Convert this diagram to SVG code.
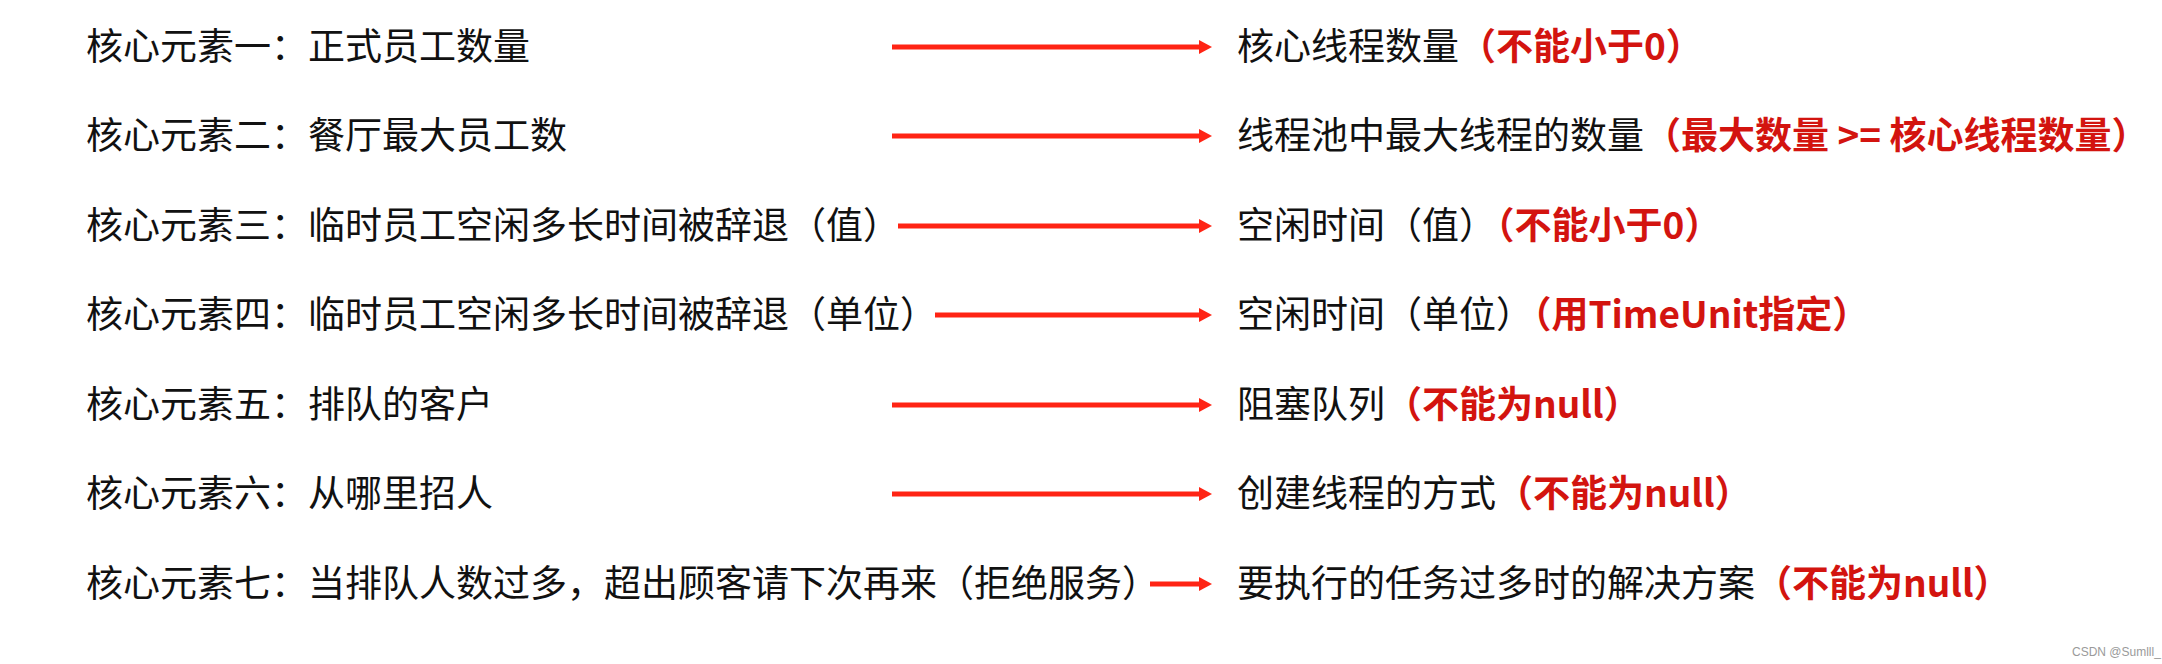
<svg xmlns="http://www.w3.org/2000/svg" width="2162" height="664" viewBox="0 0 2162 664">
<style>
.t{font-family:"Noto Sans CJK SC","Noto Sans",sans-serif;font-size:37px;fill:#111;}
.r{font-weight:bold;fill:#d3140f;}
.arr{stroke:#ff2414;stroke-width:5;fill:none;}
.wm{font-family:"Liberation Sans",Arial,sans-serif;font-size:12px;fill:#9a9a9a;}
</style>
<defs>
<marker id="ah" markerUnits="userSpaceOnUse" markerWidth="14" markerHeight="16" refX="0" refY="8" orient="auto">
<path d="M0,1 L13,8 L0,15 Z" fill="#ff2414"/>
</marker>
</defs>
<rect width="2162" height="664" fill="#fff"/>
<g id="left1"><text class="t" x="86" y="60">核心元素一：正式员工数量</text></g>
<g id="left2"><text class="t" x="86" y="149">核心元素二：餐厅最大员工数</text></g>
<g id="left3"><text class="t" x="86" y="239">核心元素三：临时员工空闲多长时间被辞退（值）</text></g>
<g id="left4"><text class="t" x="86" y="328">核心元素四：临时员工空闲多长时间被辞退（单位）</text></g>
<g id="left5"><text class="t" x="86" y="418">核心元素五：排队的客户</text></g>
<g id="left6"><text class="t" x="86" y="507">核心元素六：从哪里招人</text></g>
<g id="left7"><text class="t" x="86" y="597">核心元素七：当排队人数过多，超出顾客请下次再来（拒绝服务）</text></g>
<g id="right1"><text class="t" x="1237" y="60">核心线程数量<tspan class="r">（不能小于0）</tspan></text></g>
<g id="right2"><text class="t" x="1237" y="149">线程池中最大线程的数量<tspan class="r">（最大数量 &gt;= 核心线程数量）</tspan></text></g>
<g id="right3"><text class="t" x="1237" y="239">空闲时间（值）<tspan class="r">（不能小于0）</tspan></text></g>
<g id="right4"><text class="t" x="1237" y="328">空闲时间（单位）<tspan class="r">（用TimeUnit指定）</tspan></text></g>
<g id="right5"><text class="t" x="1237" y="418">阻塞队列<tspan class="r">（不能为null）</tspan></text></g>
<g id="right6"><text class="t" x="1237" y="507">创建线程的方式<tspan class="r">（不能为null）</tspan></text></g>
<g id="right7"><text class="t" x="1237" y="597">要执行的任务过多时的解决方案<tspan class="r">（不能为null）</tspan></text></g>
<g id="connectors">
<line class="arr" x1="892" y1="47" x2="1199" y2="47" marker-end="url(#ah)"/>
<line class="arr" x1="892" y1="136" x2="1199" y2="136" marker-end="url(#ah)"/>
<line class="arr" x1="898" y1="226" x2="1199" y2="226" marker-end="url(#ah)"/>
<line class="arr" x1="935" y1="315" x2="1199" y2="315" marker-end="url(#ah)"/>
<line class="arr" x1="892" y1="405" x2="1199" y2="405" marker-end="url(#ah)"/>
<line class="arr" x1="892" y1="494" x2="1199" y2="494" marker-end="url(#ah)"/>
<line class="arr" x1="1150" y1="584" x2="1199" y2="584" marker-end="url(#ah)"/>
</g>
<text class="wm" x="2072" y="656">CSDN @Sumlll_</text>
</svg>
